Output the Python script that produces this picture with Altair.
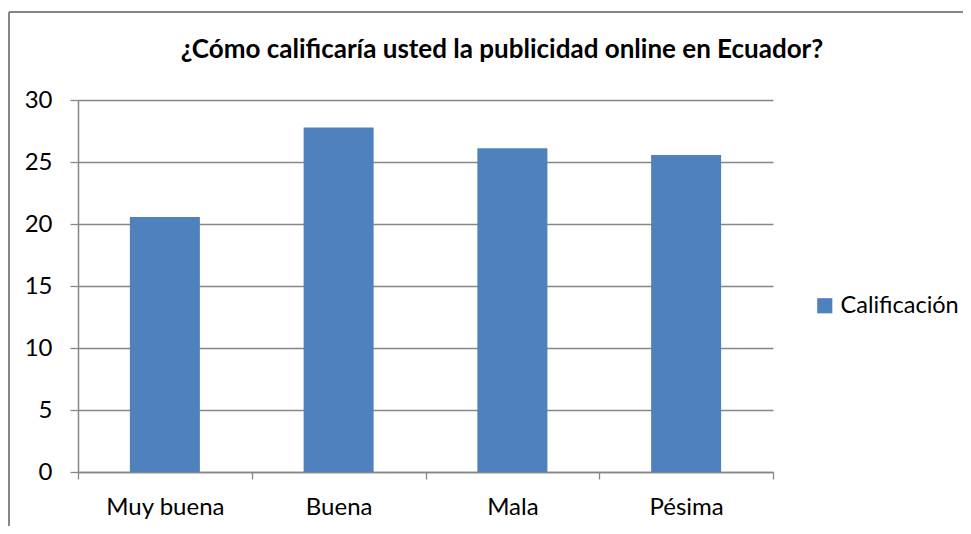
import altair as alt
import pandas as pd

categories = ["Muy buena", "Buena", "Mala", "Pésima"]
values = [20.56, 27.78, 26.11, 25.56]
series_name = "Calificación"
title_text = "¿Cómo calificaría usted la publicidad online en Ecuador?"

df = pd.DataFrame({"cat": categories, "val": values, "serie": [series_name] * len(categories)})
title_df = pd.DataFrame({"t": [title_text]})

FONT = "Lato"
GRAY = "#868686"
FS = 24

bars = alt.Chart(df).mark_bar(size=70).encode(
    x=alt.X("cat:N", sort=categories, title=None,
            scale=alt.Scale(paddingInner=0, paddingOuter=0),
            axis=alt.Axis(labelAngle=0, tickBand="extent", tickSize=7, tickColor=GRAY,
                          domainColor=GRAY, labelFontSize=FS, labelFont=FONT,
                          labelColor="black", labelPadding=16, grid=False)),
    y=alt.Y("val:Q", title=None,
            scale=alt.Scale(domain=[0, 30]),
            axis=alt.Axis(values=[0, 5, 10, 15, 20, 25, 30], tickSize=8, tickColor=GRAY,
                          domainColor=GRAY, gridColor=GRAY, gridOpacity=1,
                          labelFontSize=FS, labelFont=FONT, labelColor="black",
                          labelPadding=18)),
    color=alt.Color("serie:N", scale=alt.Scale(range=["#4F81BD"]),
                    legend=alt.Legend(title=None, orient="none", legendX=735, legendY=194,
                                      symbolType="square", symbolSize=230,
                                      labelFontSize=23.5, labelFont=FONT,
                                      labelColor="black", symbolStrokeWidth=0)),
)

title = alt.Chart(title_df).mark_text(
    font=FONT, fontSize=26, fontWeight="bold", color="black",
    align="center", baseline="alphabetic"
).encode(text="t:N", x=alt.value(424), y=alt.value(-42))

frame = alt.Chart(df).mark_rule(color=GRAY, strokeWidth=2).encode(
    x=alt.value(-69), x2=alt.value(-69), y=alt.value(-88), y2=alt.value(480)
)
frame_top = alt.Chart(df).mark_rule(color=GRAY, strokeWidth=2).encode(
    x=alt.value(-69), x2=alt.value(900), y=alt.value(-88), y2=alt.value(-88)
)

chart = alt.layer(frame, frame_top, title, bars).properties(
    width=695, height=372,
    autosize=alt.AutoSizeParams(type="none"),
    padding={"left": 70, "top": 92, "right": 190, "bottom": 54},
).configure_view(stroke=None).configure_axis(domainWidth=1.5, gridWidth=1.3, tickWidth=1.3)

chart.save("out.html", embed_options={"renderer": "svg", "actions": False})
